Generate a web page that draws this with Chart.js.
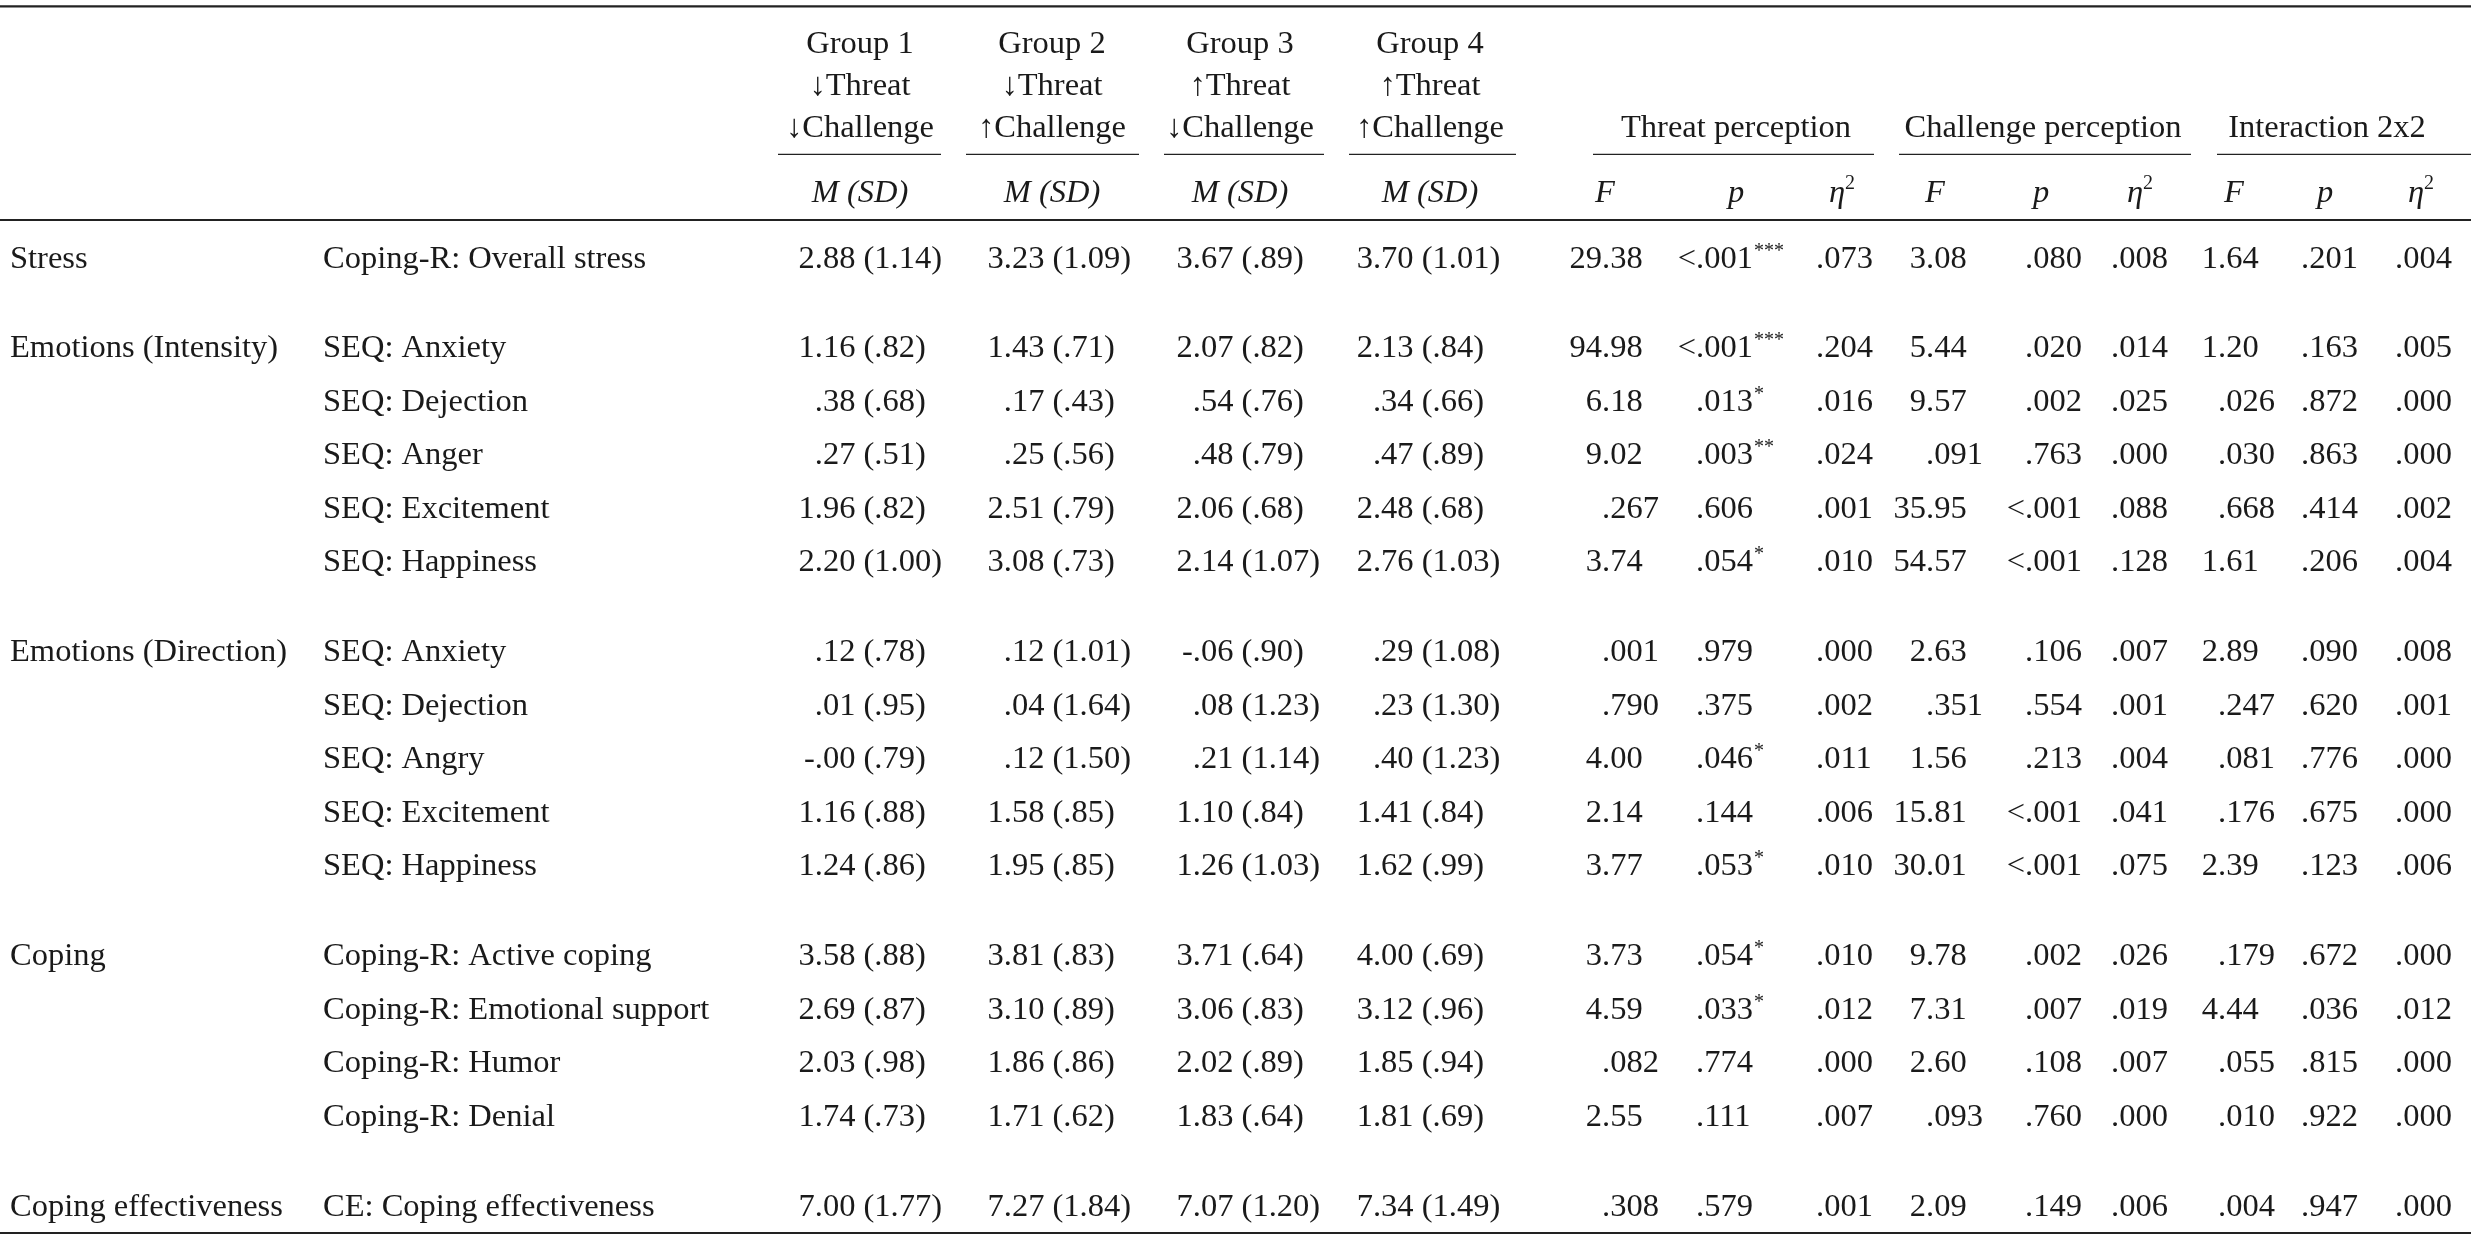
<!DOCTYPE html>
<html>
<head>
<meta charset="utf-8">
<script src="https://cdn.jsdelivr.net/npm/chart.js@4.4.1/dist/chart.umd.min.js"></script>
<style>
  html, body { margin: 0; padding: 0; background: #fff; overflow: hidden; }
  #wrap { width: 2471px; height: 1243px; }
</style>
</head>
<body>
<div id="wrap"><canvas id="myChart" width="2471" height="1243"></canvas></div>
<script>
  // ---- table values ----
  const domains = ['Stress', 'Emotions (Intensity)', 'Emotions (Direction)', 'Coping', 'Coping effectiveness'];
  const measures = [
    'Coping-R: Overall stress',
    'SEQ: Anxiety', 'SEQ: Dejection', 'SEQ: Anger', 'SEQ: Excitement', 'SEQ: Happiness',
    'SEQ: Anxiety', 'SEQ: Dejection', 'SEQ: Angry', 'SEQ: Excitement', 'SEQ: Happiness',
    'Coping-R: Active coping', 'Coping-R: Emotional support', 'Coping-R: Humor', 'Coping-R: Denial',
    'CE: Coping effectiveness'
  ];
  const measureDomain = [0, 1, 1, 1, 1, 1, 2, 2, 2, 2, 2, 3, 3, 3, 3, 4];

  const groupNames = ['Group 1', 'Group 2', 'Group 3', 'Group 4'];
  const threatLevels = ['↓Threat', '↓Threat', '↑Threat', '↑Threat'];
  const challengeLevels = ['↓Challenge', '↑Challenge', '↓Challenge', '↑Challenge'];
  const effectNames = ['Threat perception', 'Challenge perception', 'Interaction 2x2'];
  const statNames = ['F', 'p', 'η2', 'F', 'p', 'η2', 'F', 'p', 'η2'];

  const group1 = ['2.88 (1.14)', '1.16 (.82)', '.38 (.68)', '.27 (.51)', '1.96 (.82)', '2.20 (1.00)',
    '.12 (.78)', '.01 (.95)', '-.00 (.79)', '1.16 (.88)', '1.24 (.86)',
    '3.58 (.88)', '2.69 (.87)', '2.03 (.98)', '1.74 (.73)', '7.00 (1.77)'];
  const group2 = ['3.23 (1.09)', '1.43 (.71)', '.17 (.43)', '.25 (.56)', '2.51 (.79)', '3.08 (.73)',
    '.12 (1.01)', '.04 (1.64)', '.12 (1.50)', '1.58 (.85)', '1.95 (.85)',
    '3.81 (.83)', '3.10 (.89)', '1.86 (.86)', '1.71 (.62)', '7.27 (1.84)'];
  const group3 = ['3.67 (.89)', '2.07 (.82)', '.54 (.76)', '.48 (.79)', '2.06 (.68)', '2.14 (1.07)',
    '-.06 (.90)', '.08 (1.23)', '.21 (1.14)', '1.10 (.84)', '1.26 (1.03)',
    '3.71 (.64)', '3.06 (.83)', '2.02 (.89)', '1.83 (.64)', '7.07 (1.20)'];
  const group4 = ['3.70 (1.01)', '2.13 (.84)', '.34 (.66)', '.47 (.89)', '2.48 (.68)', '2.76 (1.03)',
    '.29 (1.08)', '.23 (1.30)', '.40 (1.23)', '1.41 (.84)', '1.62 (.99)',
    '4.00 (.69)', '3.12 (.96)', '1.85 (.94)', '1.81 (.69)', '7.34 (1.49)'];

  const threatF = ['29.38', '94.98', '6.18', '9.02', '.267', '3.74', '.001', '.790', '4.00', '2.14', '3.77',
    '3.73', '4.59', '.082', '2.55', '.308'];
  const threatP = ['<.001***', '<.001***', '.013*', '.003**', '.606', '.054*', '.979', '.375', '.046*', '.144', '.053*',
    '.054*', '.033*', '.774', '.111', '.579'];
  const threatEta = ['.073', '.204', '.016', '.024', '.001', '.010', '.000', '.002', '.011', '.006', '.010',
    '.010', '.012', '.000', '.007', '.001'];
  const challF = ['3.08', '5.44', '9.57', '.091', '35.95', '54.57', '2.63', '.351', '1.56', '15.81', '30.01',
    '9.78', '7.31', '2.60', '.093', '2.09'];
  const challP = ['.080', '.020', '.002', '.763', '<.001', '<.001', '.106', '.554', '.213', '<.001', '<.001',
    '.002', '.007', '.108', '.760', '.149'];
  const challEta = ['.008', '.014', '.025', '.000', '.088', '.128', '.007', '.001', '.004', '.041', '.075',
    '.026', '.019', '.007', '.000', '.006'];
  const interF = ['1.64', '1.20', '.026', '.030', '.668', '1.61', '2.89', '.247', '.081', '.176', '2.39',
    '.179', '4.44', '.055', '.010', '.004'];
  const interP = ['.201', '.163', '.872', '.863', '.414', '.206', '.090', '.620', '.776', '.675', '.123',
    '.672', '.036', '.815', '.922', '.947'];
  const interEta = ['.004', '.005', '.000', '.000', '.002', '.004', '.008', '.001', '.000', '.000', '.006',
    '.000', '.012', '.000', '.000', '.000'];

  // ---- layout (table units = canvas px) ----
  const FONT = '"Liberation Serif", "Times New Roman", serif';
  const SIZE = 32.5;
  const INK = '#1a1a1a';
  const firstBase = 267.5, rowStep = 53.5, groupGap = 36.4;
  const rowY = measures.map((m, i) => firstBase + i * rowStep + measureDomain[i] * groupGap);
  const domainRows = domains.map((d, k) => measureDomain.indexOf(k));

  const groupParen = [863.5, 1052.5, 1241.6, 1421.7];
  const groupCenter = [860, 1052, 1240, 1430];
  const groupRule = [[778, 941], [966, 1139], [1164, 1324], [1349, 1516]];
  const statDot = [1602, 1696, 1816, 1926, 2025, 2111, 2218, 2301, 2395];
  const statHead = [1605, 1736, 1842, 1935, 2041, 2140, 2234, 2325, 2421];
  const effectCenter = [1736, 2043, 2327];
  const effectRule = [[1593, 1874], [1899, 2191], [2217, 2471]];
  const headBase = [53, 95, 136.5], subHeadBase = 202;

  function cells(texts, xs, ys, align, italic) {
    return {
      type: 'scatter',
      data: texts.map((t, i) => ({ x: Array.isArray(xs) ? xs[i] : xs, y: Array.isArray(ys) ? ys[i] : ys })),
      cellText: texts, cellAlign: align, cellItalic: !!italic,
      pointRadius: 0, pointHoverRadius: 0
    };
  }
  function rule(x0, x1, y, w) {
    return {
      type: 'line',
      data: [{ x: x0, y: y }, { x: x1, y: y }],
      borderColor: '#222', borderWidth: w, pointRadius: 0, showLine: true, clip: false
    };
  }

  const datasets = [
    rule(0, 2471, 6.3, 2.2),
    rule(0, 2471, 220, 1.8),
    rule(0, 2471, 1233, 2.2),
    ...groupRule.map(r => rule(r[0], r[1], 154.3, 1.3)),
    ...effectRule.map(r => rule(r[0], r[1], 154.3, 1.3)),
    cells(groupNames, groupCenter, headBase[0], 'center'),
    cells(threatLevels, groupCenter, headBase[1], 'center'),
    cells(challengeLevels, groupCenter, headBase[2], 'center'),
    cells(effectNames, effectCenter, headBase[2], 'center'),
    cells(groupNames.map(() => 'M (SD)'), groupCenter, subHeadBase, 'center', true),
    cells(statNames, statHead, subHeadBase, 'center', true),
    cells(domains, 10, domainRows.map(r => rowY[r]), 'left'),
    cells(measures, 323, rowY, 'left'),
    cells(group1, groupParen[0], rowY, 'paren'),
    cells(group2, groupParen[1], rowY, 'paren'),
    cells(group3, groupParen[2], rowY, 'paren'),
    cells(group4, groupParen[3], rowY, 'paren'),
    cells(threatF, statDot[0], rowY, 'dot'),
    cells(threatP, statDot[1], rowY, 'dot'),
    cells(threatEta, statDot[2], rowY, 'dot'),
    cells(challF, statDot[3], rowY, 'dot'),
    cells(challP, statDot[4], rowY, 'dot'),
    cells(challEta, statDot[5], rowY, 'dot'),
    cells(interF, statDot[6], rowY, 'dot'),
    cells(interP, statDot[7], rowY, 'dot'),
    cells(interEta, statDot[8], rowY, 'dot')
  ];

  // draws the cell text at each (invisible) point the scales placed
  const tableText = {
    id: 'tableText',
    afterDatasetsDraw(chart) {
      const ctx = chart.ctx;
      const reg = SIZE + 'px ' + FONT, ital = 'italic ' + SIZE + 'px ' + FONT, sup = '20px ' + FONT;
      ctx.save();
      ctx.fillStyle = INK;
      ctx.textBaseline = 'alphabetic';
      chart.data.datasets.forEach((ds, di) => {
        if (!ds.cellText) return;
        const meta = chart.getDatasetMeta(di);
        meta.data.forEach((pt, i) => {
          let s = ds.cellText[i];
          const x = pt.x, y = pt.y;
          ctx.font = ds.cellItalic ? ital : reg;
          if (ds.cellAlign === 'left') {
            ctx.textAlign = 'left';
            ctx.fillText(s, x, y);
          } else if (ds.cellAlign === 'center') {
            if (s === 'η2') {
              const w1 = ctx.measureText('η').width;
              ctx.font = sup;
              const w2 = ctx.measureText('2').width;
              const x0 = x - (w1 + w2) / 2;
              ctx.textAlign = 'left';
              ctx.font = ital;
              ctx.fillText('η', x0, y);
              ctx.font = sup;
              ctx.fillText('2', x0 + w1, y - 13);
            } else {
              ctx.textAlign = 'center';
              ctx.fillText(s, x, y);
            }
          } else if (ds.cellAlign === 'paren') {
            const k = s.indexOf(' ');
            const sp = ctx.measureText(' ').width;
            ctx.textAlign = 'right';
            ctx.fillText(s.slice(0, k), x - sp, y);
            ctx.textAlign = 'left';
            ctx.fillText(s.slice(k + 1), x, y);
          } else if (ds.cellAlign === 'dot') {
            const m = s.match(/^(.*?)(\**)$/);
            const body = m[1], stars = m[2];
            const k = body.indexOf('.');
            const pre = body.slice(0, k), post = body.slice(k);
            ctx.textAlign = 'right';
            ctx.fillText(pre, x, y);
            ctx.textAlign = 'left';
            ctx.fillText(post, x, y);
            if (stars) {
              const w = ctx.measureText(post).width;
              ctx.font = sup;
              ctx.fillText(stars, x + w + 1, y - 11);
            }
          }
        });
      });
      ctx.restore();
    }
  };

  new Chart(document.getElementById('myChart'), {
    type: 'scatter',
    data: { datasets: datasets },
    options: {
      responsive: false,
      devicePixelRatio: 1,
      animation: false,
      events: [],
      layout: { padding: 0 },
      plugins: { legend: { display: false }, tooltip: { enabled: false } },
      scales: {
        x: { type: 'linear', min: 0, max: 2471, display: false },
        y: { type: 'linear', min: 0, max: 1243, reverse: true, display: false }
      }
    },
    plugins: [tableText]
  });
</script>
</body>
</html>
